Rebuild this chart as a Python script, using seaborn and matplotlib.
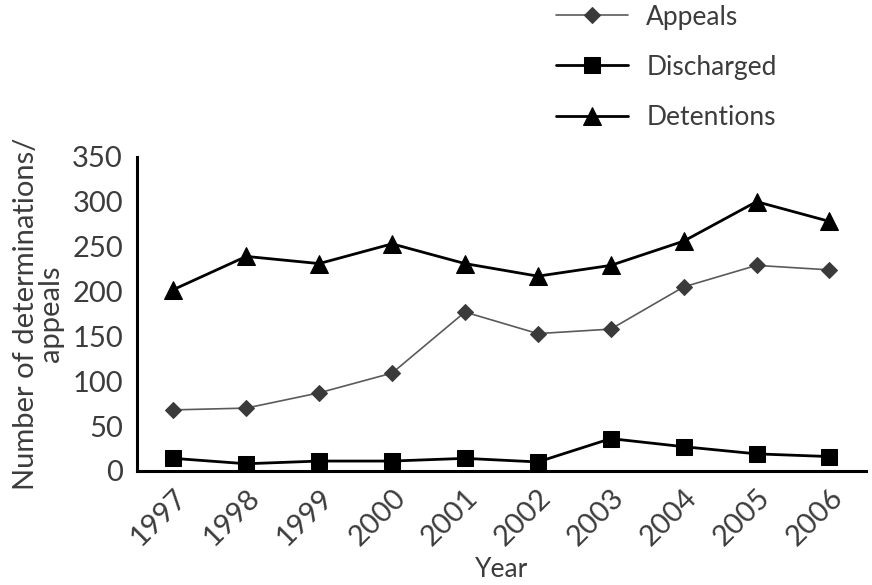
import pandas as pd
import numpy as np
import matplotlib
matplotlib.use("Agg")
import matplotlib.pyplot as plt
import seaborn as sns

# ---------- Data ----------
years = ["1997", "1998", "1999", "2000", "2001", "2002", "2003", "2004", "2005", "2006"]
appeals = [68, 70, 87, 109, 177, 153, 158, 205, 229, 224]
discharged = [14, 8, 11, 11, 14, 10, 36, 27, 19, 16]
detentions = [202, 239, 231, 253, 231, 217, 229, 256, 300, 278]

series_names = ["Appeals", "Discharged", "Detentions"]

# ---------- Build long table ----------
df = pd.DataFrame({
    "Year": years * 3,
    "idx": list(range(len(years))) * 3,
    "value": appeals + discharged + detentions,
    "series": [s for s in series_names for _ in years],
})

sns.set_style("white")
plt.rcParams["font.family"] = ["Lato", "DejaVu Sans"]
text_col = "#3c3c3c"

fig = plt.figure(figsize=(8.72, 5.85), dpi=100)
ax = fig.add_axes([0.157, 0.195, 0.836, 0.537])

styles = {
    "Appeals": dict(color="#5a5a5a", marker="D", ms=8, lw=1.2, mfc="#3a3a3a", mec="#3a3a3a"),
    "Discharged": dict(color="black", marker="s", ms=12, lw=2.0, mfc="black", mec="black"),
    "Detentions": dict(color="black", marker="^", ms=13, lw=2.0, mfc="black", mec="black"),
}

for name in series_names:
    sub = df[df["series"] == name]
    st = styles[name]
    sns.lineplot(data=sub, x="idx", y="value", ax=ax, color=st["color"], lw=st["lw"],
                 marker=st["marker"], markersize=st["ms"], markerfacecolor=st["mfc"],
                 markeredgecolor=st["mec"], label=name)

# ---------- Axes styling ----------
ax.set_xlim(-0.5, len(years) - 0.5)
ax.set_ylim(0, 350)
ax.set_yticks(np.arange(0, 351, 50))
ax.set_xticks(range(len(years)))
ax.set_xticklabels(years, rotation=45, ha="right", rotation_mode="anchor",
                   fontsize=21, color=text_col)
ax.set_xticks(np.arange(-0.5, len(years), 1), minor=True)
ax.tick_params(axis="x", which="major", length=0, pad=10)
ax.tick_params(axis="x", which="minor", length=8, width=1, color="#999999", direction="out")
ax.tick_params(axis="y", length=6, width=1, color="#999999", direction="out",
               labelsize=21, labelcolor=text_col, pad=4)

for side in ["top", "right"]:
    ax.spines[side].set_visible(False)
for side in ["left", "bottom"]:
    ax.spines[side].set_color("black")
    ax.spines[side].set_linewidth(2.2)

ax.set_xlabel("Year", fontsize=19, color=text_col, labelpad=4)
ax.set_ylabel("Number of determinations/\nappeals", fontsize=21, color=text_col,
              labelpad=6, linespacing=0.95)

leg = ax.legend(loc="upper left", bbox_to_anchor=(0.543, 1.56), frameon=False,
                fontsize=19, handlelength=2.7, labelspacing=0.95, handletextpad=0.7)
for t in leg.get_texts():
    t.set_color(text_col)

fig.savefig("out.png", dpi=100)
